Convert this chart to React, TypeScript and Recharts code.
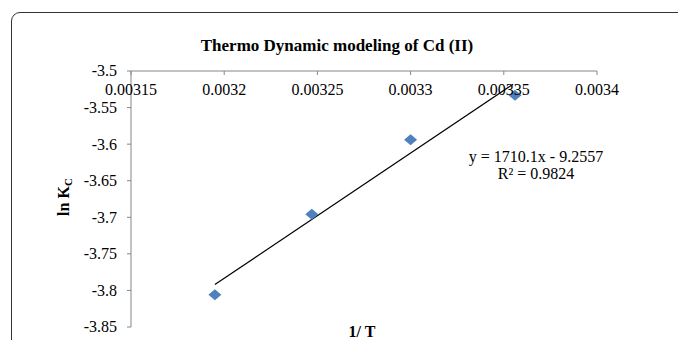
import { ScatterChart, Scatter, XAxis, YAxis } from "recharts"

// 1/T values and ln Kc
const INV_T = [0.003195, 0.003247, 0.0033, 0.003356]
const LN_KC = [-3.806, -3.696, -3.594, -3.533]

// trendline endpoints as drawn
const TREND_X = [0.003195, 0.003355]
const TREND_Y = [-3.792, -3.518]

const X_TICKS = [0.00315, 0.0032, 0.00325, 0.0033, 0.00335, 0.0034]
const Y_TICKS = [-3.85, -3.8, -3.75, -3.7, -3.65, -3.6, -3.55, -3.5]

const TITLE = "Thermo Dynamic modeling of Cd (II)"
const EQUATION = "y = 1710.1x - 9.2557"
const R_SQUARED = "R² = 0.9824"

const points = INV_T.map((x, i) => ({ x, y: LN_KC[i] }))
const trend = TREND_X.map((x, i) => ({ x, y: TREND_Y[i] }))

const FONT = "'Liberation Serif', 'Times New Roman', serif"
const AXIS_GRAY = "#868686"

const Diamond = (props: any) => {
  const { cx, cy } = props
  if (cx == null || cy == null) return <g />
  return (
    <polygon
      points={`${cx},${cy - 5.5} ${cx + 6.5},${cy} ${cx},${cy + 5.5} ${cx - 6.5},${cy}`}
      fill="#4F81BD"
    />
  )
}

// x axis sits on top, ticks and labels hang below the line
const XTick = (props: any) => {
  const { x, y, payload } = props
  return (
    <g>
      <line x1={x} x2={x} y1={y} y2={y + 4} stroke={AXIS_GRAY} />
      <text x={x} y={y + 24} textAnchor="middle" style={{ fontFamily: FONT, fontSize: 16 }} fill="#000">
        {payload.value}
      </text>
    </g>
  )
}

const YTick = (props: any) => {
  const { x, y, payload } = props
  return (
    <text x={x} y={y} dy="0.34em" textAnchor="end" style={{ fontFamily: FONT, fontSize: 16 }} fill="#000">
      {payload.value}
    </text>
  )
}

export default function App() {
  return (
    <div style={{ position: "absolute", left: 0, top: 0, width: 678, height: 340, overflow: "hidden", background: "#fff", fontFamily: FONT }}>
      <div
        style={{
          position: "absolute",
          left: 11,
          top: 12,
          width: 720,
          height: 400,
          border: "1.5px solid #333",
          borderRadius: 9,
        }}
      />
      <ScatterChart
        width={678}
        height={340}
        margin={{ top: 41, right: 81, bottom: 13, left: 71 }}
        style={{ position: "absolute", left: 0, top: 0 }}
      >
        <XAxis
          type="number"
          dataKey="x"
          orientation="top"
          height={30}
          domain={[0.00315, 0.0034]}
          ticks={X_TICKS}
          interval={0}
          allowDataOverflow
          tickSize={0}
          tickMargin={0}
          axisLine={{ stroke: AXIS_GRAY }}
          tickLine={false}
          tick={<XTick />}
        />
        <YAxis
          type="number"
          dataKey="y"
          width={60}
          domain={[-3.85, -3.5]}
          ticks={Y_TICKS}
          interval={0}
          allowDataOverflow
          tickSize={4}
          tickMargin={10}
          axisLine={{ stroke: AXIS_GRAY }}
          tickLine={{ stroke: AXIS_GRAY }}
          tick={<YTick />}
        />
        <Scatter
          data={trend}
          line={{ stroke: "#000", strokeWidth: 1.2 }}
          shape={() => <g />}
          isAnimationActive={false}
        />
        <Scatter data={points} shape={Diamond} isAnimationActive={false} />
      </ScatterChart>
      <svg
        width={678}
        height={340}
        style={{ position: "absolute", left: 0, top: 0, pointerEvents: "none", fontFamily: FONT }}
      >
        <text x={337} y={51} textAnchor="middle" fontSize={17} fontWeight="bold" fill="#000">
          {TITLE}
        </text>
        <text x={536} y={162} textAnchor="middle" fontSize={16} fill="#000">
          {EQUATION}
        </text>
        <text x={536} y={179} textAnchor="middle" fontSize={16} fill="#000">
          {R_SQUARED}
        </text>
        <text x={362} y={337} textAnchor="middle" fontSize={16} fontWeight="bold" fill="#000">
          1/ T
        </text>
        <text
          transform="translate(69,197) rotate(-90)"
          textAnchor="middle"
          fontSize={16}
          fontWeight="bold"
          fill="#000"
        >
          ln K
          <tspan fontSize={11} dy={3}>
            C
          </tspan>
        </text>
      </svg>
    </div>
  )
}
